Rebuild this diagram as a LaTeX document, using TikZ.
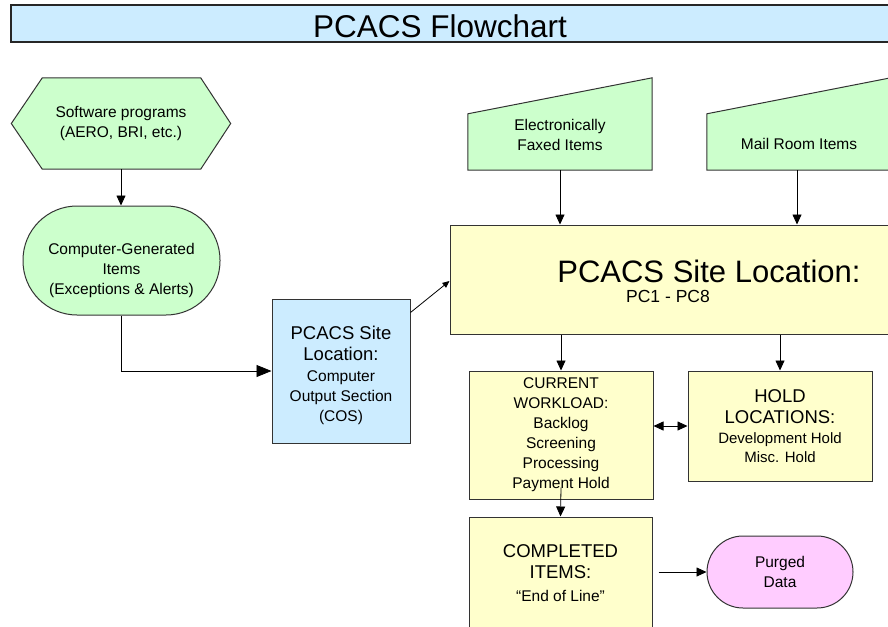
\documentclass[tikz,border=0pt]{standalone}
\usepackage{fontspec}
\setmainfont{Liberation Sans}
\usetikzlibrary{arrows.meta,backgrounds,calc}

\definecolor{boxgreen}{HTML}{CCFFCC}
\definecolor{boxyellow}{HTML}{FFFFCC}
\definecolor{boxblue}{HTML}{CCECFF}
\definecolor{boxpink}{HTML}{FFCCFF}
\definecolor{edgegray}{HTML}{333333}

\tikzset{
  box/.style={draw=edgegray, line width=1pt, inner sep=0pt, align=center},
  ghost/.style={inner sep=0pt, align=center},
  shapeline/.style={draw=edgegray, line width=1pt},
  smalltext/.style={align=center, inner sep=0pt, font=\fontsize{15.5}{20}\selectfont},
  medtext/.style={align=center, inner sep=0pt, font=\fontsize{18.5}{21.5}\selectfont},
  arr/.style={draw=black, line width=0.8pt, -{Triangle[length=10pt,width=9pt]}},
}

\begin{document}
\begin{tikzpicture}[x=1pt, y=-1pt]
\useasboundingbox (0,0) rectangle (888,626);
\clip (0,0) rectangle (888,626);

% title bar
\node[draw=black!85, line width=1.6pt, fill=boxblue, minimum width=889, minimum height=37, inner sep=0pt] (bar) at (455.5,23.5) {};
\node[inner sep=0pt, font=\fontsize{31.5}{36}\selectfont] (title) at (440,26) {PCACS Flowchart};

% software programs (hexagon)
\node[smalltext, minimum width=219, minimum height=91] (soft) at (121,123.5) {Software programs\\(AERO, BRI, etc.)};

% computer-generated items (terminal)
\node[box, fill=boxgreen, rounded corners=54pt, minimum width=197, minimum height=109] (cgen) at (121.5,260.5) {};
\node[smalltext] (cgentext) at (121.5,270) {Computer-Generated\\Items\\(Exceptions \& Alerts)};

% computer output section
\node[box, fill=boxblue, minimum width=138, minimum height=144] (cos) at (341,371) {};
\node[medtext] (cosA) at (341,343.5) {PCACS Site\\Location:};
\node[smalltext] (cosB) at (341,398) {Computer\\Output Section\\(COS)};

% main site location
\node[box, fill=boxyellow, minimum width=520, minimum height=109] (site) at (710,279.5) {};
\node[inner sep=0pt, font=\fontsize{31}{36}\selectfont] (sitetitle) at (709,271.5) {PCACS Site Location:};
\node[inner sep=0pt, font=\fontsize{17.5}{20}\selectfont] (sitesub) at (668,296.5) {PC1 - PC8};

% manual inputs
\node[ghost, minimum width=184, minimum height=56] (fax) at (560,142) {};
\node[smalltext] (faxtext) at (560,134.5) {Electronically\\Faxed Items};
\node[ghost, minimum width=182, minimum height=56] (mail) at (798,142) {};
\node[smalltext] (mailtext) at (799,144) {Mail Room Items};

% workload, hold, completed, purged
\node[box, fill=boxyellow, minimum width=184, minimum height=128, font=\fontsize{15.5}{20}\selectfont] (cur) at (561,435)
  {CURRENT\\WORKLOAD:\\Backlog\\Screening\\Processing\\Payment Hold};
\node[box, fill=boxyellow, minimum width=184, minimum height=110] (hold) at (780,426) {};
\node[medtext] (holdA) at (780,406.5) {HOLD\\LOCATIONS:};
\node[smalltext, font=\fontsize{15}{19.5}\selectfont] (holdB) at (780,447.5) {Development Hold\\Misc. Hold};
\node[box, fill=boxyellow, minimum width=183, minimum height=110] (comp) at (560.5,572) {};
\node[medtext] (compA) at (560.5,561.5) {COMPLETED\\ITEMS:};
\node[smalltext] (compB) at (560.5,596) {“End of Line”};
\node[box, fill=boxpink, rounded corners=36pt, minimum width=146, minimum height=72, font=\fontsize{15.5}{20}\selectfont] (purged) at (780,572) {Purged\\Data};

% outlines of the hexagon and the manual-input shapes
\begin{pgfonlayer}{background}
  \path[shapeline, fill=boxgreen] (soft.west) -- ($(soft.north west)+(31,0)$) -- ($(soft.north east)+(-30,0)$)
    -- (soft.east) -- ($(soft.south east)+(-30,0)$) -- ($(soft.south west)+(31,0)$) -- cycle;
  \path[shapeline, fill=boxgreen] (fax.south west) -- (fax.south east) -- ($(fax.north east)+(0,-36)$) -- (fax.north west) -- cycle;
  \path[shapeline, fill=boxgreen] (mail.south west) -- (mail.south east) -- ($(mail.north east)+(0,-35.7)$) -- (mail.north west) -- cycle;
\end{pgfonlayer}

% connectors
\draw[arr] (soft.south) -- (soft.south |- cgen.north);
\draw[arr, -{Triangle[length=15pt,width=12pt]}] (cgen.south) |- (cos.west);
\draw[arr, -{Triangle[length=7pt,width=6pt]}] ([yshift=-14pt]cos.north east) -- ([yshift=-1.5pt]site.west);
\draw[arr] (fax.south) -- (fax.south |- site.north);
\draw[arr] ([xshift=-1pt]mail.south) -- ([xshift=-1pt]mail.south |- site.north);
\draw[arr] (cur.north |- site.south) -- (cur.north);
\draw[arr] (hold.north |- site.south) -- (hold.north);
\draw[arr, {Triangle[length=10pt,width=9pt]}-{Triangle[length=10pt,width=9pt]}] (cur.east |- hold.west) -- (hold.west);
\draw[arr] ([yshift=12pt]cur.south) -- (comp.north);
\draw[arr] ([xshift=6pt]comp.east |- purged.west) -- (purged.west);
\end{tikzpicture}
\end{document}
